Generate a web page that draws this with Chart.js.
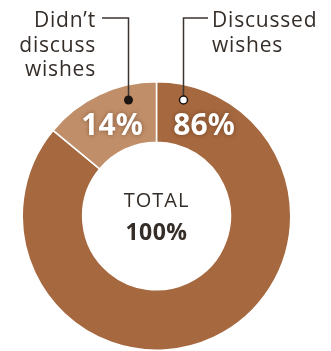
<!DOCTYPE html>
<html>
<head>
<meta charset="utf-8">
<script src="https://cdn.jsdelivr.net/npm/chart.js@4"></script>
<style>
  html, body { margin: 0; padding: 0; background: #fff; }
  canvas { display: block; }
</style>
</head>
<body>
<canvas id="chart" width="331" height="351"></canvas>
<script>
// Share of respondents, clockwise from 12 o'clock
const categories = ['Discussed wishes', "Didn't discuss wishes"]
const shares = [86, 14]
const sliceColors = ['#a5683f', '#c08e69']
const totalLabel = 'TOTAL'
const totalValue = '100%'

const labelFont = '"Open Sans", sans-serif'
const textColor = '#352d28'

// Draws the percent labels, callouts and centre total
const annotations = {
  id: 'annotations',
  afterDraw(chart) {
    const ctx = chart.ctx
    ctx.save()

    // percent labels inside the ring
    ctx.font = 'bold 30px "Noto Sans", sans-serif'
    ctx.textAlign = 'center'
    ctx.textBaseline = 'middle'
    ctx.fillStyle = '#fff'
    ctx.shadowColor = 'rgba(60, 30, 10, 0.45)'
    ctx.shadowBlur = 4
    ctx.fillText(shares[1] + '%', 112, 126)
    ctx.fillText(shares[0] + '%', 204, 126)
    ctx.shadowColor = 'transparent'

    // callout lines
    ctx.strokeStyle = '#3b3531'
    ctx.lineWidth = 1.5
    ctx.beginPath()
    ctx.moveTo(102, 18); ctx.lineTo(128.5, 18); ctx.lineTo(128.5, 96)
    ctx.moveTo(208, 18); ctx.lineTo(183.5, 18); ctx.lineTo(183.5, 96)
    ctx.stroke()

    ctx.beginPath()
    ctx.arc(128.5, 100, 4.5, 0, Math.PI * 2)
    ctx.fillStyle = '#1a1412'
    ctx.fill()
    ctx.beginPath()
    ctx.arc(183.5, 100, 4, 0, Math.PI * 2)
    ctx.fillStyle = '#fff'
    ctx.fill()
    ctx.strokeStyle = '#1a1412'
    ctx.stroke()

    // category labels
    ctx.fillStyle = textColor
    ctx.font = '21px ' + labelFont
    ctx.letterSpacing = '0.8px'
    ctx.textBaseline = 'alphabetic'
    ctx.textAlign = 'right'
    ;["Didn’t", 'discuss', 'wishes'].forEach((t, i) => ctx.fillText(t, 96, 27 + i * 24.5))
    ctx.textAlign = 'left'
    ;['Discussed', 'wishes'].forEach((t, i) => ctx.fillText(t, 212, 27 + i * 24.5))

    // centre total
    const cx = (chart.chartArea.left + chart.chartArea.right) / 2
    ctx.textAlign = 'center'
    ctx.font = '20px ' + labelFont
    ctx.letterSpacing = '1px'
    ctx.fillText(totalLabel, cx, 207)
    ctx.font = 'bold 23px ' + labelFont
    ctx.letterSpacing = '0.5px'
    ctx.fillText(totalValue, cx, 240)
    ctx.restore()
  }
}

new Chart(document.getElementById('chart'), {
  type: 'doughnut',
  data: {
    labels: categories,
    datasets: [{
      data: shares,
      backgroundColor: sliceColors,
      borderColor: '#fff',
      borderWidth: 1.5
    }]
  },
  options: {
    responsive: false,
    animation: false,
    cutout: '55%',
    layout: { padding: { left: 21, right: 39, top: 81, bottom: 0 } },
    plugins: {
      legend: { display: false },
      tooltip: { enabled: false }
    }
  },
  plugins: [annotations]
})
</script>
</body>
</html>
